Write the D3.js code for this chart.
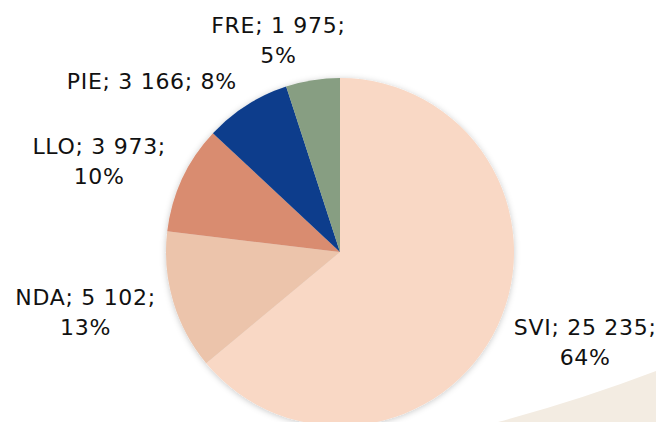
<!DOCTYPE html>
<html>
<head>
<meta charset="utf-8">
<script src="https://cdn.jsdelivr.net/npm/d3@7"></script>
<style>
  body { margin: 0; background: #fff; }
  svg { display: block; font-family: "DejaVu Sans", sans-serif; }
  .label { font-size: 22px; fill: #111; letter-spacing: 0.7px; }
</style>
</head>
<body>
<div id="chart"></div>
<script>
// data
const categories = ["SVI", "NDA", "LLO", "PIE", "FRE"];
const values = [25235, 5102, 3973, 3166, 1975];
const percents = ["64%", "13%", "10%", "8%", "5%"];
const colors = ["#f9d8c5", "#ecc4ab", "#d98c70", "#0a3d8c", "#879e82"];
const singleLine = ["PIE"];

const width = 656,
    height = 422,
    cx = 340,
    cy = 252,
    radius = 174;

const fmt = d3.formatLocale({ decimal: ",", thousands: " ", grouping: [3], currency: ["", ""] }).format(",d");

const svg = d3.select("#chart")
    .append("svg")
    .attr("width", width)
    .attr("height", height);

// soft shadow
const defs = svg.append("defs");
const filter = defs.append("filter")
    .attr("id", "shadow")
    .attr("x", "-20%").attr("y", "-20%")
    .attr("width", "140%").attr("height", "140%");
filter.append("feDropShadow")
    .attr("dx", 0).attr("dy", 1)
    .attr("stdDeviation", 3)
    .attr("flood-color", "#000")
    .attr("flood-opacity", 0.22);

// background decoration bottom right
svg.append("path")
    .attr("d", "M498,422 Q580,400 656,371 L656,422 Z")
    .attr("fill", "#f3ece2");

const data = categories.map((c, i) => ({ name: c, value: values[i], pct: percents[i], color: colors[i] }));

const pie = d3.pie().sort(null).value(d => d.value);
const arc = d3.arc().innerRadius(0).outerRadius(radius);
const arcs = pie(data);

const g = svg.append("g").attr("transform", `translate(${cx},${cy})`);

g.append("g")
    .attr("filter", "url(#shadow)")
    .selectAll("path")
    .data(arcs)
    .join("path")
    .attr("d", arc)
    .attr("fill", d => d.data.color);

// labels, placed just outside the rim, pushed away from the pie
const lineH = 30;
const labels = g.selectAll("text.label")
    .data(arcs)
    .join("text")
    .attr("class", "label")
    .attr("text-anchor", "middle");

labels.each(function (d) {
    const t = d3.select(this);
    const lines = singleLine.includes(d.data.name)
        ? [`${d.data.name}; ${fmt(d.data.value)}; ${d.data.pct}`]
        : [`${d.data.name}; ${fmt(d.data.value)};`, d.data.pct];
    lines.forEach((l, i) => t.append("tspan").attr("x", 0).attr("dy", i === 0 ? 0 : lineH).text(l));
});

labels.attr("transform", function (d) {
    const bb = this.getBBox();
    const a = (d.startAngle + d.endAngle) / 2;
    const s = Math.sin(a), c = Math.cos(a);
    const r = radius + 18;
    const px = r * s, py = -r * c;
    const f = Math.max(-1, Math.min(1, s * 3));
    const bx = px + f * bb.width / 2;
    const by = py - c * bb.height * 0.4;
    // bbox center relative to text origin
    const ox = bb.x + bb.width / 2, oy = bb.y + bb.height / 2;
    return `translate(${bx - ox},${by - oy})`;
});
</script>
</body>
</html>
